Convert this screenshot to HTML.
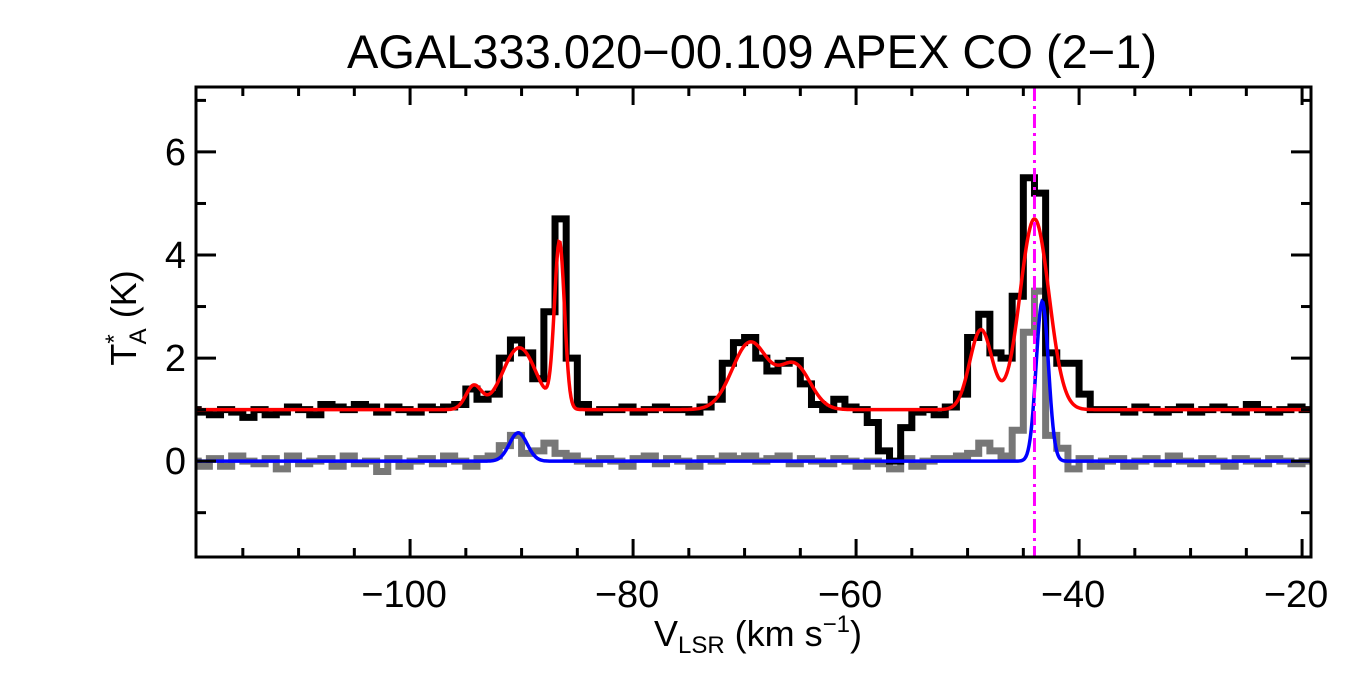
<!DOCTYPE html>
<html><head><meta charset="utf-8"><style>
body{margin:0;background:#fff;}
svg{display:block;font-family:"Liberation Sans",Arial,sans-serif;}
</style></head><body>
<svg id="chart" width="1350" height="675" viewBox="0 0 1350 675" xmlns="http://www.w3.org/2000/svg">
<rect width="1350" height="675" fill="#fff"/>
<text x="752" y="68" font-size="47" text-anchor="middle">AGAL333.020−00.109  APEX CO (2−1)</text>
<g id="plot"></g>
<g id="axes"></g>
<text x="758" y="646" font-size="36" text-anchor="middle">V<tspan font-size="24" dy="7">LSR</tspan><tspan dy="-7"> (km s</tspan><tspan font-size="24" dy="-14">−1</tspan><tspan dy="14">)</tspan></text>
<text transform="translate(136,318) rotate(-90)" font-size="36" text-anchor="middle">T<tspan font-size="24" dy="-14">*</tspan><tspan font-size="24" dx="-10" dy="24">A</tspan><tspan dy="-10"> (K)</tspan></text>
</svg>
<script>
const v0 = -119.5, dv = 1;
const blackSpec = [1.0,0.95,0.9,1.0,0.95,0.85,1.0,0.9,0.95,1.05,1.0,0.9,1.1,1.05,1.0,1.1,1.05,0.95,1.05,1.0,0.95,1.05,1.0,1.05,
1.1,1.4,1.2,1.3,2.0,2.35,2.1,1.6,2.9,4.7,2.0,1.1,0.95,1.0,
1.0,1.05,0.95,1.0,1.05,1.0,1.0,0.95,1.05,
1.2,1.9,2.3,2.4,2.0,1.75,1.9,1.95,1.5,1.1,1.0,1.2,1.05,1.0,0.75,0.2,0.0,0.65,0.95,1.0,0.9,1.05,1.3,2.4,2.85,2.1,2.0,3.2,5.5,5.2,2.1,1.9,1.9,1.3,1.0,1.0,
1.0,0.95,1.05,1.0,0.95,1.0,1.05,0.95,1.0,1.05,1.0,0.95,1.1,1.0,0.95,1.0,1.05,1.0];
const graySpec = [0.0,-0.1,0.05,-0.1,0.1,0.0,-0.05,0.05,-0.15,0.1,-0.05,0.0,0.05,-0.1,0.1,-0.05,0.0,-0.2,0.05,-0.1,0.0,0.05,-0.05,0.1,
0.0,-0.1,0.05,0.1,0.3,0.5,0.15,0.2,0.35,0.15,0.1,0.0,-0.05,0.05,
0.0,-0.1,0.05,0.1,-0.05,0.05,0.0,-0.1,0.05,
0.0,0.1,0.05,0.1,0.0,0.05,0.1,-0.05,0.05,0.0,-0.05,0.05,0.0,-0.1,0.0,-0.05,-0.15,0.05,-0.1,0.0,0.05,0.05,0.1,0.15,0.35,0.2,0.1,0.6,2.5,3.3,0.5,0.25,-0.15,0.05,-0.1,0.0,
0.05,-0.1,0.0,0.05,-0.05,0.1,0.0,-0.05,0.05,0.0,-0.1,0.05,0.0,-0.05,0.05,0.0,-0.05,0.0];
const redAmp = [0.45,1.2,3.2,1.3,0.85,1.55,3.7];
const redCen = [-94.3,-90.2,-86.6,-69.5,-65.5,-48.8,-44.0];
const redSig = [0.7,1.5,0.45,1.6,1.4,1.0,1.3];
const redBase = 1.0;
const blueAmp = [0.55,3.1];
const blueCen = [-90.3,-43.3];
const blueSig = [0.8,0.55];
const markerV = -44.0;
const xTicks = [-100,-80,-60,-40,-20];
const yTicks = [0,2,4,6];

const L=196,R=1311,T=87,B=557, xmin=-119.2,xmax=-19.2,ymin=-1.86,ymax=7.26;
const X=v=>L+(v-xmin)/(xmax-xmin)*(R-L);
const Y=t=>B-(t-ymin)/(ymax-ymin)*(B-T);
const NS="http://www.w3.org/2000/svg";
const plot=document.getElementById('plot'), axes=document.getElementById('axes');
function mk(tag,attrs,parent){const e=document.createElementNS(NS,tag);for(const k in attrs)e.setAttribute(k,attrs[k]);parent.appendChild(e);return e;}
function stepPath(arr){let d='';arr.forEach((t,i)=>{const c=v0+i*dv;const xa=Math.max(L,X(c-dv/2)),xb=Math.min(R,X(c+dv/2));d+=(i?'L':'M')+xa+','+Y(t)+'L'+xb+','+Y(t);});return d;}
function gauss(v,amp,cen,sig,base){let s=base;for(let k=0;k<amp.length;k++)s+=amp[k]*Math.exp(-((v-cen[k])**2)/(2*sig[k]*sig[k]));return s;}
function fitPath(amp,cen,sig,base){let d='';for(let px=L;px<=R;px+=1){const v=xmin+(px-L)/(R-L)*(xmax-xmin);d+=(px===L?'M':'L')+px+','+Y(gauss(v,amp,cen,sig,base)).toFixed(2);}return d;}
const g1=mk('path',{d:stepPath(graySpec),fill:'none',stroke:'#777',"stroke-width":7},plot);


const b1=mk('path',{d:stepPath(blackSpec),fill:'none',stroke:'#000',"stroke-width":7},plot);


const r1=mk('path',{d:fitPath(redAmp,redCen,redSig,redBase),fill:'none',stroke:'#f00',"stroke-width":3.5},plot);


const bl=mk('path',{d:fitPath(blueAmp,blueCen,blueSig,0),fill:'none',stroke:'#00f',"stroke-width":3.5},plot);


const mv=mk('line',{x1:X(markerV),x2:X(markerV),y1:T,y2:B,stroke:'#f0f',"stroke-width":3,"stroke-dasharray":"14,5,3,5"},plot);


const fr=mk('rect',{x:L,y:T,width:R-L,height:B-T,fill:'none',stroke:'#000',"stroke-width":3},axes);


for(let v=-115;v<=-20;v+=5){const major=v%20===0;const len=major?18:9;
 mk('line',{x1:X(v),x2:X(v),y1:B,y2:B-len,stroke:'#000',"stroke-width":3},axes);
 mk('line',{x1:X(v),x2:X(v),y1:T,y2:T+len,stroke:'#000',"stroke-width":3},axes);}
xTicks.forEach(v=>{const t=mk('text',{x:X(v)-6,y:B+50,"font-size":38,"text-anchor":"middle"},axes);t.textContent='−'+Math.abs(v);
 
 });
for(let t=-1;t<=7;t++){const major=t%2===0;const len=major?20:10;
 mk('line',{x1:L,x2:L+len,y1:Y(t),y2:Y(t),stroke:'#000',"stroke-width":3},axes);
 mk('line',{x1:R,x2:R-len,y1:Y(t),y2:Y(t),stroke:'#000',"stroke-width":3},axes);}
yTicks.forEach(t=>{const e=mk('text',{x:L-10,y:Y(t)+13,"font-size":38,"text-anchor":"end"},axes);e.textContent=String(t);
 
 });
</script>
</body></html>
